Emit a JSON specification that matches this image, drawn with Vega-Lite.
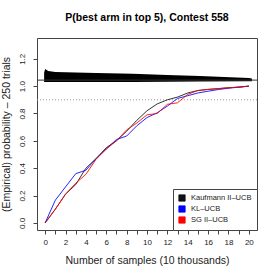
{
  "$schema": "https://vega.github.io/schema/vega-lite/v6.json",
  "autosize": "none",
  "width": 220,
  "height": 192,
  "padding": {"left": 37, "top": 38, "right": 20, "bottom": 47},
  "background": "white",
  "title": {"text": "P(best arm in top 5), Contest 558", "fontSize": 10.5, "fontWeight": "bold", "font": "Liberation Sans", "anchor": "middle", "offset": 15, "color": "black"},
  "config": {
    "view": {"stroke": "#444", "strokeWidth": 1},
    "axis": {"labelFont": "Liberation Sans", "titleFont": "Liberation Sans", "labelFontSize": 8, "titleFontSize": 10.5, "titleFontWeight": "normal", "labelColor": "#222", "titleColor": "#222", "tickColor": "#444", "grid": false, "domain": false, "tickSize": 4, "labelOverlap": false},
    "axisX": {"tickCount": 21, "labelExpr": "datum.value % 2 == 0 ? datum.label : ''", "labelPadding": 4, "titlePadding": 9, "labelFlush": false, "labelOverlap": false},
    "axisY": {"tickCount": 7, "format": ".1f", "labelAngle": -90, "labelAlign": "center", "labelBaseline": "bottom", "labelPadding": 7, "titlePadding": 7, "labelOverlap": false}
  },
  "datasets": {
    "lines": [
      {"x": 0, "p": 0, "algo": "Kaufmann II–UCB"},
      {"x": 1, "p": 0.10, "algo": "Kaufmann II–UCB"},
      {"x": 2, "p": 0.21, "algo": "Kaufmann II–UCB"},
      {"x": 3, "p": 0.28, "algo": "Kaufmann II–UCB"},
      {"x": 4, "p": 0.40, "algo": "Kaufmann II–UCB"},
      {"x": 5, "p": 0.47, "algo": "Kaufmann II–UCB"},
      {"x": 6, "p": 0.55, "algo": "Kaufmann II–UCB"},
      {"x": 7, "p": 0.60, "algo": "Kaufmann II–UCB"},
      {"x": 8, "p": 0.67, "algo": "Kaufmann II–UCB"},
      {"x": 9, "p": 0.75, "algo": "Kaufmann II–UCB"},
      {"x": 10, "p": 0.82, "algo": "Kaufmann II–UCB"},
      {"x": 11, "p": 0.87, "algo": "Kaufmann II–UCB"},
      {"x": 12, "p": 0.90, "algo": "Kaufmann II–UCB"},
      {"x": 13, "p": 0.92, "algo": "Kaufmann II–UCB"},
      {"x": 14, "p": 0.95, "algo": "Kaufmann II–UCB"},
      {"x": 15, "p": 0.968, "algo": "Kaufmann II–UCB"},
      {"x": 16, "p": 0.976, "algo": "Kaufmann II–UCB"},
      {"x": 17, "p": 0.982, "algo": "Kaufmann II–UCB"},
      {"x": 18, "p": 0.988, "algo": "Kaufmann II–UCB"},
      {"x": 19, "p": 0.993, "algo": "Kaufmann II–UCB"},
      {"x": 20, "p": 1.0, "algo": "Kaufmann II–UCB"},
      {"x": 0, "p": 0, "algo": "KL–UCB"},
      {"x": 1, "p": 0.166, "algo": "KL–UCB"},
      {"x": 2, "p": 0.263, "algo": "KL–UCB"},
      {"x": 3, "p": 0.36, "algo": "KL–UCB"},
      {"x": 4, "p": 0.385, "algo": "KL–UCB"},
      {"x": 5, "p": 0.47, "algo": "KL–UCB"},
      {"x": 6, "p": 0.54, "algo": "KL–UCB"},
      {"x": 7, "p": 0.61, "algo": "KL–UCB"},
      {"x": 8, "p": 0.635, "algo": "KL–UCB"},
      {"x": 9, "p": 0.71, "algo": "KL–UCB"},
      {"x": 10, "p": 0.77, "algo": "KL–UCB"},
      {"x": 11, "p": 0.805, "algo": "KL–UCB"},
      {"x": 12, "p": 0.854, "algo": "KL–UCB"},
      {"x": 13, "p": 0.91, "algo": "KL–UCB"},
      {"x": 14, "p": 0.93, "algo": "KL–UCB"},
      {"x": 15, "p": 0.95, "algo": "KL–UCB"},
      {"x": 16, "p": 0.963, "algo": "KL–UCB"},
      {"x": 17, "p": 0.975, "algo": "KL–UCB"},
      {"x": 18, "p": 0.985, "algo": "KL–UCB"},
      {"x": 19, "p": 0.992, "algo": "KL–UCB"},
      {"x": 20, "p": 1.0, "algo": "KL–UCB"},
      {"x": 0, "p": 0, "algo": "SG II–UCB"},
      {"x": 1, "p": 0.10, "algo": "SG II–UCB"},
      {"x": 2, "p": 0.21, "algo": "SG II–UCB"},
      {"x": 3, "p": 0.29, "algo": "SG II–UCB"},
      {"x": 4, "p": 0.355, "algo": "SG II–UCB"},
      {"x": 5, "p": 0.465, "algo": "SG II–UCB"},
      {"x": 6, "p": 0.54, "algo": "SG II–UCB"},
      {"x": 7, "p": 0.60, "algo": "SG II–UCB"},
      {"x": 8, "p": 0.68, "algo": "SG II–UCB"},
      {"x": 9, "p": 0.73, "algo": "SG II–UCB"},
      {"x": 10, "p": 0.79, "algo": "SG II–UCB"},
      {"x": 11, "p": 0.80, "algo": "SG II–UCB"},
      {"x": 12, "p": 0.867, "algo": "SG II–UCB"},
      {"x": 13, "p": 0.878, "algo": "SG II–UCB"},
      {"x": 14, "p": 0.94, "algo": "SG II–UCB"},
      {"x": 15, "p": 0.968, "algo": "SG II–UCB"},
      {"x": 16, "p": 0.976, "algo": "SG II–UCB"},
      {"x": 17, "p": 0.982, "algo": "SG II–UCB"},
      {"x": 18, "p": 0.988, "algo": "SG II–UCB"},
      {"x": 19, "p": 0.993, "algo": "SG II–UCB"},
      {"x": 20, "p": 1.0, "algo": "SG II–UCB"}
    ],
    "band": [
      {"x": -0.1, "top": 1.10, "bottom": 1.03},
      {"x": 0, "top": 1.125, "bottom": 1.03},
      {"x": 0.3, "top": 1.11, "bottom": 1.03},
      {"x": 1, "top": 1.104, "bottom": 1.03},
      {"x": 2, "top": 1.102, "bottom": 1.03},
      {"x": 5, "top": 1.096, "bottom": 1.03},
      {"x": 8.6, "top": 1.09, "bottom": 1.031},
      {"x": 12, "top": 1.082, "bottom": 1.032},
      {"x": 15.2, "top": 1.075, "bottom": 1.033},
      {"x": 20, "top": 1.06, "bottom": 1.035},
      {"x": 20.3, "top": 1.055, "bottom": 1.036}
    ],
    "refs": [
      {"y": 1.044, "kind": "solid"},
      {"y": 0.9, "kind": "dotted"}
    ]
  },
  "layer": [
    {
      "data": {"name": "band"},
      "mark": {"type": "area", "color": "black", "clip": true},
      "encoding": {
        "x": {"field": "x", "type": "quantitative", "scale": {"domain": [-0.8, 20.8], "nice": false, "zero": false},
          "axis": {"title": "Number of samples (10 thousands)"}},
        "y": {"field": "top", "type": "quantitative", "scale": {"domain": [-0.052, 1.352], "nice": false, "zero": false},
          "axis": {"title": "(Empirical) probability – 250 trials"}},
        "y2": {"field": "bottom"}
      }
    },
    {
      "data": {"name": "refs"},
      "transform": [{"filter": "datum.kind == 'solid'"}],
      "mark": {"type": "rule", "color": "#333", "strokeWidth": 1},
      "encoding": {"y": {"field": "y", "type": "quantitative"}}
    },
    {
      "data": {"name": "refs"},
      "transform": [{"filter": "datum.kind == 'dotted'"}],
      "mark": {"type": "rule", "color": "#999", "strokeWidth": 1, "strokeDash": [1, 2]},
      "encoding": {"y": {"field": "y", "type": "quantitative"}}
    },
    {
      "data": {"name": "lines"},
      "transform": [{"filter": "datum.x > 100"}],
      "mark": {"type": "square", "filled": true, "size": 40, "opacity": 1, "stroke": "black", "strokeWidth": 0.8},
      "encoding": {
        "x": {"field": "x", "type": "quantitative"},
        "y": {"field": "p", "type": "quantitative"},
        "color": {"field": "algo", "type": "nominal",
          "scale": {"domain": ["Kaufmann II–UCB", "KL–UCB", "SG II–UCB"], "range": ["#111111", "#0000ff", "#ff0000"]},
          "legend": {"title": null, "orient": "bottom-right", "offset": 0, "strokeColor": "#444", "fillColor": "white", "padding": 5, "symbolType": "square", "symbolSize": 40, "symbolStrokeColor": "black", "symbolStrokeWidth": 0.8, "labelFont": "Liberation Sans", "labelFontSize": 7.5, "labelColor": "#222", "rowPadding": 1, "labelOffset": 5}}
      }
    },
    {
      "data": {"name": "lines"},
      "mark": {"type": "line", "strokeWidth": 1, "opacity": 0.85},
      "encoding": {
        "x": {"field": "x", "type": "quantitative"},
        "y": {"field": "p", "type": "quantitative"},
        "color": {"field": "algo", "type": "nominal"}
      }
    }
  ]
}
